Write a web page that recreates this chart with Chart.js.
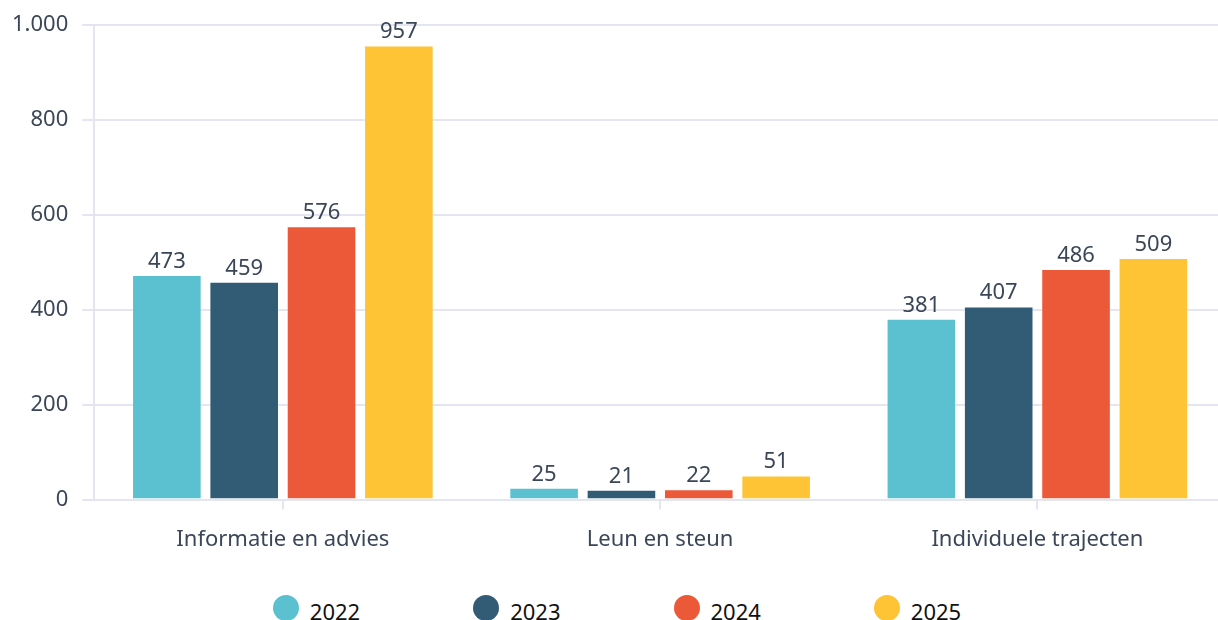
<!DOCTYPE html>
<html>
<head>
<meta charset="utf-8">
<script src="https://cdn.jsdelivr.net/npm/chart.js@4.4.1/dist/chart.umd.min.js"></script>
<style>
  html, body { margin: 0; padding: 0; overflow: hidden; background: #fff; }
  #page { width: 1226px; height: 640px; position: relative; }
  #wrap { width: 1226px; height: 570px; position: relative; }
  #legend {
    position: absolute; left: 4px; top: 595px; width: 1226px;
    display: flex; justify-content: center; gap: 113px;
    font-family: 'Noto Sans', sans-serif; font-size: 22px; color: #111;
  }
  #legend .item { display: flex; align-items: flex-start; }
  #legend .dot { width: 26px; height: 26px; border-radius: 50%; margin-right: 11px; }
  #legend .txt { line-height: 26px; margin-top: 3px; }
</style>
</head>
<body>
<div id="page">
  <div id="wrap"><canvas id="chart"></canvas></div>
  <div id="legend"></div>
</div>
<script>
const categories = ["Informatie en advies", "Leun en steun", "Individuele trajecten"];
const years = ["2022", "2023", "2024", "2025"];
const values2022 = [473, 25, 381];
const values2023 = [459, 21, 407];
const values2024 = [576, 22, 486];
const values2025 = [957, 51, 509];
const colors = ["#5bc0cf", "#325c75", "#eb5938", "#fec435"];
const yTicks = [0, 200, 400, 600, 800, 1000];

const fontFamily = "'Noto Sans', sans-serif";
const textColor = "#3b4658";
const lineColor = "#e3e6f1";

// draws the value above each bar
const valueLabels = {
  id: "valueLabels",
  afterDatasetsDraw(chart) {
    const ctx = chart.ctx;
    ctx.save();
    ctx.font = "22px " + fontFamily;
    ctx.fillStyle = textColor;
    ctx.textAlign = "center";
    ctx.textBaseline = "alphabetic";
    chart.data.datasets.forEach((ds, i) => {
      chart.getDatasetMeta(i).data.forEach((bar, j) => {
        ctx.fillText(ds.data[j], bar.x, bar.y - 7);
      });
    });
    ctx.restore();
  }
};

// html legend built from the chart's own legend items
const htmlLegend = {
  id: "htmlLegend",
  afterUpdate(chart) {
    const box = document.getElementById("legend");
    box.innerHTML = "";
    const items = chart.options.plugins.legend.labels.generateLabels(chart);
    items.forEach(item => {
      const el = document.createElement("div");
      el.className = "item";
      const dot = document.createElement("span");
      dot.className = "dot";
      dot.style.background = item.fillStyle;
      const txt = document.createElement("span");
      txt.className = "txt";
      txt.textContent = item.text;
      el.appendChild(dot);
      el.appendChild(txt);
      box.appendChild(el);
    });
  }
};

const allValues = [values2022, values2023, values2024, values2025];

new Chart(document.getElementById("chart"), {
  type: "bar",
  data: {
    labels: categories,
    datasets: years.map((y, i) => ({
      label: y,
      data: allValues[i],
      backgroundColor: colors[i],
      borderColor: "rgba(255,255,255,0.35)",
      borderWidth: 1,
      barPercentage: 0.9,
      categoryPercentage: 0.82
    }))
  },
  options: {
    responsive: true,
    maintainAspectRatio: false,
    animation: false,
    layout: { padding: { top: 0, left: -2, right: 0, bottom: 0 } },
    plugins: {
      tooltip: { enabled: false },
      legend: { display: false }
    },
    scales: {
      x: {
        grid: {
          offset: false,
          drawOnChartArea: false,
          drawTicks: true,
          tickLength: 10,
          lineWidth: 2,
          color: lineColor
        },
        border: { color: lineColor, width: 2 },
        ticks: {
          color: textColor,
          padding: 17,
          font: { family: fontFamily, size: 22 }
        }
      },
      y: {
        min: 0,
        max: 1000,
        afterBuildTicks(scale) {
          scale.ticks = yTicks.map(v => ({ value: v }));
        },
        grid: {
          color: lineColor,
          lineWidth: 2,
          tickLength: 12
        },
        border: { color: lineColor, width: 2 },
        ticks: {
          color: textColor,
          padding: 14,
          font: { family: fontFamily, size: 22, lineHeight: 1 },
          callback: v => v.toLocaleString("nl-NL")
        }
      }
    }
  },
  plugins: [valueLabels, htmlLegend]
});
</script>
</body>
</html>
